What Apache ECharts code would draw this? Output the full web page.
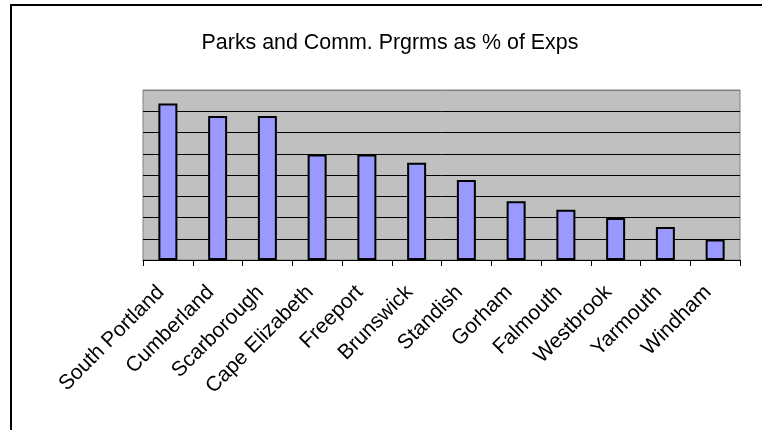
<!DOCTYPE html>
<html>
<head>
<meta charset="utf-8">
<script src="https://cdn.jsdelivr.net/npm/echarts@6/dist/echarts.min.js"></script>
<style>
  html, body { margin: 0; padding: 0; background: #fff; }
  #chart { width: 762px; height: 430px; }
</style>
</head>
<body>
<div id="chart"></div>
<script>
// 各镇公园及社区项目支出占比
const towns = ['South Portland', 'Cumberland', 'Scarborough', 'Cape Elizabeth', 'Freeport',
  'Brunswick', 'Standish', 'Gorham', 'Falmouth', 'Westbrook', 'Yarmouth', 'Windham'];
const pctValues = [7.36, 6.78, 6.78, 4.97, 4.97, 4.58, 3.76, 2.76, 2.37, 1.98, 1.55, 0.96];
const yMax = 8;
const yStep = 1;

const font = 'Liberation Sans, Arial, sans-serif';
// 最上面一条网格线用灰色，跟边框一致
const splitColors = [];
for (let i = 0; i < yMax / yStep; i++) splitColors.push('#000');
splitColors.push('#808080');

const myChart = echarts.init(document.getElementById('chart'));
const option = {
  backgroundColor: '#fff',
  animation: false,
  title: {
    text: 'Parks and Comm. Prgrms as % of Exps',
    left: 385,
    top: 28,
    textAlign: 'center',
    textStyle: {
      fontFamily: font,
      fontSize: 21.4,
      fontWeight: 'normal',
      color: '#000'
    }
  },
  graphic: [{
    type: 'rect',
    shape: { x: 11, y: 5, width: 900, height: 600 },
    style: { fill: 'none', stroke: '#000', lineWidth: 2 },
    silent: true
  }],
  grid: {
    left: 143,
    right: 22,
    top: 90,
    bottom: 170,
    show: true,
    backgroundColor: '#c0c0c0',
    borderColor: '#808080',
    borderWidth: 1
  },
  xAxis: {
    type: 'category',
    data: towns,
    boundaryGap: true,
    axisLine: { show: true, lineStyle: { color: '#000', width: 1 } },
    axisTick: { show: true, length: 6, lineStyle: { color: '#000' } },
    axisLabel: {
      rotate: 45,
      margin: 22,
      padding: [0, 10, 0, 0],
      interval: 0,
      color: '#000',
      fontFamily: font,
      fontSize: 21
    }
  },
  yAxis: {
    type: 'value',
    min: 0,
    max: yMax,
    interval: yStep,
    axisLine: { show: false },
    axisTick: { show: false },
    axisLabel: { show: false },
    splitLine: { show: true, lineStyle: { color: splitColors, width: 1 } }
  },
  series: [{
    type: 'bar',
    data: pctValues,
    barWidth: 19,
    itemStyle: {
      color: '#9999ff',
      borderColor: '#000',
      borderWidth: 2
    }
  }]
};
myChart.setOption(option);
</script>
</body>
</html>
